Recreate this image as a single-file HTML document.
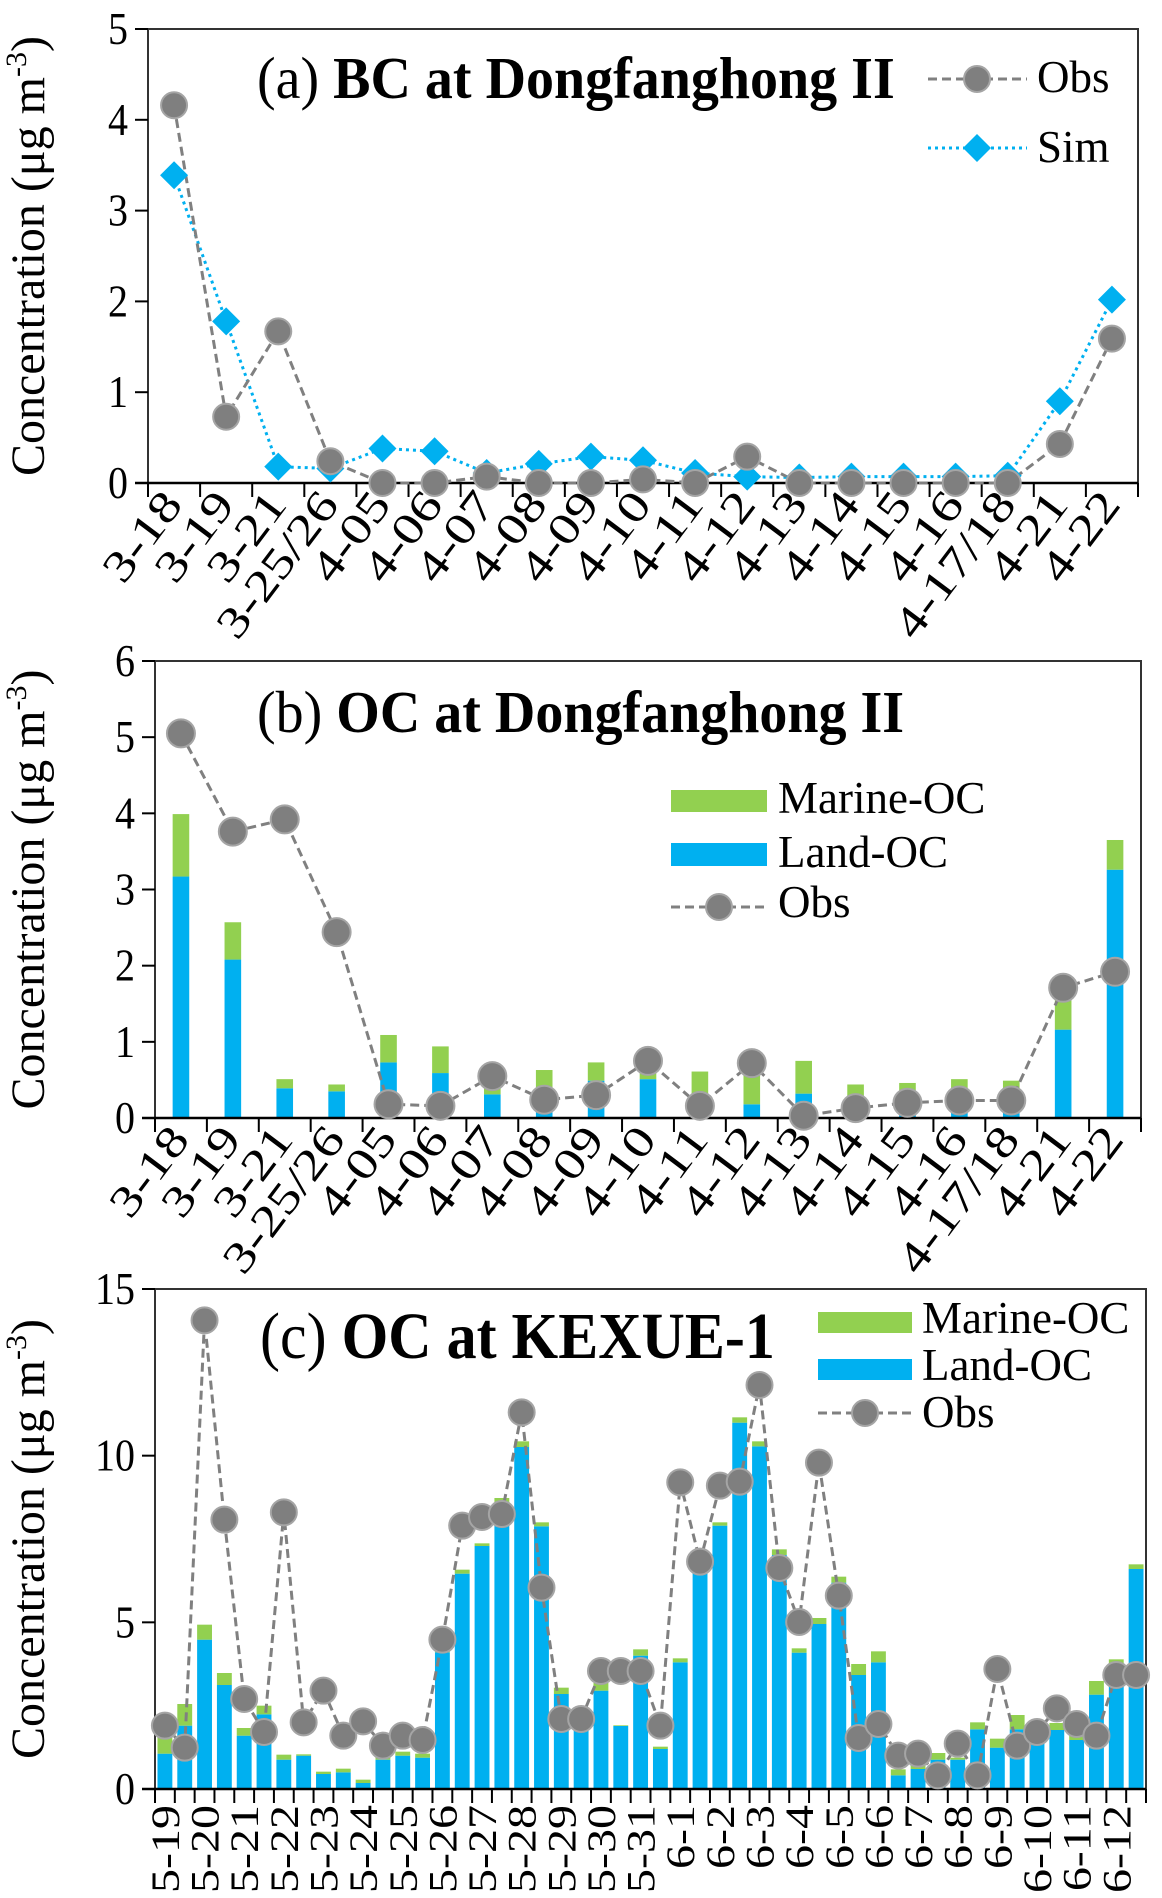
<!DOCTYPE html>
<html><head><meta charset="utf-8"><style>
html,body{margin:0;padding:0;background:#fff;}
svg{display:block;font-family:"Liberation Serif",serif;}
</style></head><body>
<svg id="chart" width="1162" height="1898" viewBox="0 0 1162 1898" xmlns="http://www.w3.org/2000/svg"></svg>
<script>
// ---------- data ----------
const catsAB = ["3-18","3-19","3-21","3-25/26","4-05","4-06","4-07","4-08","4-09","4-10","4-11","4-12","4-13","4-14","4-15","4-16","4-17/18","4-21","4-22"];
const bcObs = [4.16,0.73,1.67,0.24,0,0,0.07,0,0,0.04,0,0.29,0,0,0,0,0,0.43,1.59];
const bcSim = [3.39,1.78,0.18,0.16,0.38,0.35,0.11,0.21,0.29,0.25,0.11,0.07,0.06,0.07,0.07,0.07,0.08,0.9,2.02];
const ocbLand = [3.17,2.08,0.39,0.35,0.73,0.59,0.31,0.13,0.49,0.51,0.08,0.18,0.32,0.27,0.1,0.1,0.1,1.16,3.26];
const ocbMarine = [0.82,0.49,0.12,0.09,0.36,0.35,0.14,0.5,0.24,0.17,0.53,0.44,0.43,0.17,0.36,0.41,0.39,0.44,0.39];
const ocbObs = [5.05,3.76,3.92,2.44,0.18,0.16,0.55,0.24,0.3,0.75,0.16,0.72,0.03,0.13,0.2,0.23,0.23,1.71,1.92];
const catsC = ["5-19","","5-20","","5-21","","5-22","","5-23","","5-24","","5-25","","5-26","","5-27","","5-28","","5-29","","5-30","","5-31","","6-1","","6-2","","6-3","","6-4","","6-5","","6-6","","6-7","","6-8","","6-9","","6-10","","6-11","","6-12",""];
const occLand = [1.06,1.9,4.48,3.12,1.6,2.24,0.88,1.0,0.45,0.5,0.18,0.88,1.0,0.94,4.1,6.46,7.29,8.6,10.26,7.88,2.85,2.0,2.95,1.89,4.0,1.2,3.8,6.7,7.9,10.99,10.28,7.02,4.09,4.95,6.19,3.42,3.8,0.41,0.6,0.88,0.88,1.79,1.24,1.79,1.6,1.77,1.47,2.83,3.66,6.6];
const occMarine = [0.59,0.65,0.45,0.36,0.23,0.26,0.15,0.04,0.07,0.11,0.1,0.12,0.12,0.12,0.15,0.12,0.08,0.13,0.17,0.12,0.19,0.1,0.23,0.02,0.19,0.07,0.12,0.1,0.1,0.16,0.15,0.17,0.13,0.18,0.18,0.33,0.33,0.18,0.5,0.2,0.06,0.21,0.27,0.43,0.15,0.21,0.18,0.41,0.23,0.14];
const occObs = [1.9,1.24,14.06,8.08,2.7,1.71,8.3,2.0,2.95,1.6,2.03,1.3,1.6,1.47,4.48,7.9,8.16,8.25,11.3,6.04,2.1,2.1,3.54,3.54,3.54,1.9,9.2,6.82,9.1,9.22,12.12,6.63,5.01,9.79,5.8,1.53,1.95,1.0,1.06,0.41,1.36,0.41,3.6,1.3,1.71,2.42,1.95,1.6,3.42,3.42];
const ticksA=[0,1,2,3,4,5], ticksB=[0,1,2,3,4,5,6], ticksC=[0,5,10,15];

const NS="http://www.w3.org/2000/svg";
const svg=document.getElementById('chart');
function mk(tag,attrs,parent,text){const e=document.createElementNS(NS,tag);for(const k in attrs)e.setAttribute(k,attrs[k]);if(text!==undefined)e.textContent=text;(parent||svg).appendChild(e);return e;}
const BLUE="#00B0F0",GREEN="#92D050",GRAY="#808080";

function panel(P){
  const g=mk('g',{});
  
  
  const n=P.cats.length, cw=(P.x1-P.x0)/n;
  const y=v=>P.yb-(v/P.max)*(P.yb-P.yt);
  const xc=i=>P.x0+(i+0.5)*cw;
  const fr=mk('rect',{x:P.x0,y:P.yt,width:P.x1-P.x0,height:P.yb-P.yt,fill:'none',stroke:'#333','stroke-width':2},g);
  
  
  P.ticks.forEach(t=>{
    mk('line',{x1:P.x0-13,x2:P.x0,y1:y(t),y2:y(t),stroke:'#000','stroke-width':2},g);
    const tl=mk('text',{x:0,y:0,'text-anchor':'end','font-size':40,transform:`translate(${P.x0-20},${y(t)+15}) scale(1,1.15)`},g,String(t));
    
    
  });
  const yt=mk('text',{x:0,y:0,'text-anchor':'middle','font-size':48,transform:`translate(${P.ytx},${(P.yt+P.yb)/2}) rotate(-90)`},g);
  
  
  mk('tspan',{},yt,'Concentration (μg m');
  mk('tspan',{'font-size':30,dy:-18},yt,'-3');
  mk('tspan',{dy:18},yt,')');
  if(P.land){
    P.land.forEach((v,i)=>{
      const bw=cw*P.bwr;
      const b=mk('rect',{x:xc(i)-bw/2,y:y(v),width:bw,height:P.yb-y(v),fill:BLUE},g);
      
      
      const m=P.marine[i];
      const b2=mk('rect',{x:xc(i)-bw/2,y:y(v+m),width:bw,height:y(v)-y(v+m),fill:GREEN},g);
      
      
    });
  }
  mk('line',{x1:P.x0-13,x2:P.x1,y1:P.yb,y2:P.yb,stroke:'#000','stroke-width':2.5},g);
  for(let i=0;i<=n;i++) mk('line',{x1:P.x0+i*cw,x2:P.x0+i*cw,y1:P.yb,y2:P.yb+14,stroke:'#000','stroke-width':2},g);
  P.cats.forEach((c,i)=>{
    if(!c)return;
    let tr;
    if(P.vertical) tr=`translate(${xc(i)+14},${P.yb+16}) rotate(-90) scale(1.2,1)`;
    else tr=`translate(${xc(i)+10},${P.yb+22}) rotate(-53) scale(1.25,1)`;
    const xl=mk('text',{x:0,y:0,'text-anchor':'end','font-size':P.vertical?40:44,transform:tr},g,c);
    
    
  });
  if(P.sim){
    const pts=P.sim.map((v,i)=>xc(i)+','+y(v)).join(' ');
    const l=mk('polyline',{points:pts,fill:'none',stroke:BLUE,'stroke-width':3,'stroke-dasharray':'3 4'},g);
    
    
  }
  const pts=P.obs.map((v,i)=>xc(i)+','+y(v)).join(' ');
  const ol=mk('polyline',{points:pts,fill:'none',stroke:GRAY,'stroke-width':3,'stroke-dasharray':'9 5'},g);
  
  
  if(P.sim){
    P.sim.forEach((v,i)=>{
      const d=14,cx=xc(i),cy=y(v);
      const dm=mk('polygon',{points:`${cx},${cy-d} ${cx+d},${cy} ${cx},${cy+d} ${cx-d},${cy}`,fill:BLUE},g);
      
      
    });
  }
  P.obs.forEach((v,i)=>{
    const c=mk('circle',{cx:xc(i),cy:y(v),r:P.r,fill:'#7f7f7f',stroke:'#a5a5a5','stroke-width':2},g);
    
    
  });
  const t=mk('text',{x:0,y:0,'font-size':P.tfs,transform:`translate(${P.tx},${P.ty}) scale(1,${P.tsy})`},g);
  
  
  mk('tspan',{},t,P.tl);
  mk('tspan',{'font-weight':'bold'},t,P.tb);
  return g;
}

panel({name:'panel-a-bc-dongfanghong',cats:catsAB,x0:148,x1:1138,yt:29,yb:483,max:5,ticks:ticksA,ytx:44,obs:bcObs,sim:bcSim,r:13,
  tx:257,ty:98,tfs:56,tsy:1.05,tl:'(a) ',tb:'BC at Dongfanghong II'});
panel({name:'panel-b-oc-dongfanghong',cats:catsAB,x0:155,x1:1141,yt:661,yb:1118,max:6,ticks:ticksB,ytx:44,obs:ocbObs,land:ocbLand,marine:ocbMarine,bwr:0.32,r:14,
  tx:257,ty:732,tfs:56,tsy:1.05,tl:'(b) ',tb:'OC at Dongfanghong II'});
panel({name:'panel-c-oc-kexue',cats:catsC,x0:155,x1:1146,yt:1289,yb:1789,max:15,ticks:ticksC,ytx:44,obs:occObs,land:occLand,marine:occMarine,bwr:0.75,r:13,vertical:true,
  tx:260,ty:1358,tfs:60,tsy:1.1,tl:'(c) ',tb:'OC at  KEXUE-1'});

function legText(x,y,s,name){const t=mk('text',{x:x,y:y,'font-size':45},svg,s);}
let l=mk('g',{});
mk('line',{x1:928,x2:1027,y1:79,y2:79,stroke:GRAY,'stroke-width':3,'stroke-dasharray':'9 5'},l);
mk('circle',{cx:977,cy:79,r:13,fill:'#7f7f7f',stroke:'#a5a5a5','stroke-width':2},l);
legText(1037,92,'Obs','legend-entry-obs');
mk('line',{x1:928,x2:1027,y1:148,y2:148,stroke:BLUE,'stroke-width':3,'stroke-dasharray':'3 4'},l);
mk('polygon',{points:'977,134 991,148 977,162 963,148',fill:BLUE},l);
legText(1037,162,'Sim','legend-entry-sim');
l=mk('g',{});
mk('rect',{x:671,y:790,width:96,height:22,fill:GREEN},l);
legText(778,813,'Marine-OC','legend-entry-marine-oc');
mk('rect',{x:671,y:843,width:96,height:23,fill:BLUE},l);
legText(778,867,'Land-OC','legend-entry-land-oc');
mk('line',{x1:671,x2:767,y1:907,y2:907,stroke:GRAY,'stroke-width':3,'stroke-dasharray':'9 5'},l);
mk('circle',{cx:719,cy:907,r:13,fill:'#7f7f7f',stroke:'#a5a5a5','stroke-width':2},l);
legText(778,917,'Obs','legend-entry-obs');
l=mk('g',{});
mk('rect',{x:818,y:1312,width:94,height:21,fill:GREEN},l);
legText(922,1333,'Marine-OC','legend-entry-marine-oc');
mk('rect',{x:818,y:1359,width:94,height:21,fill:BLUE},l);
legText(922,1380,'Land-OC','legend-entry-land-oc');
mk('line',{x1:818,x2:912,y1:1413,y2:1413,stroke:GRAY,'stroke-width':3,'stroke-dasharray':'9 5'},l);
mk('circle',{cx:865,cy:1413,r:13,fill:'#7f7f7f',stroke:'#a5a5a5','stroke-width':2},l);
legText(922,1427,'Obs','legend-entry-obs');
</script>
</body></html>
